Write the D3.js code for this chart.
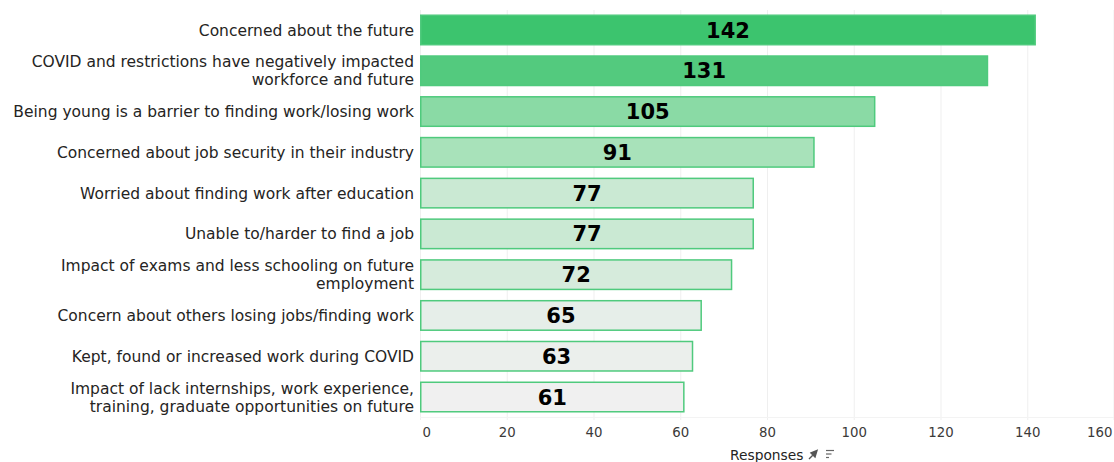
<!DOCTYPE html>
<html>
<head>
<meta charset="utf-8">
<script src="https://cdn.jsdelivr.net/npm/d3@7"></script>
<style>
  html, body { margin: 0; padding: 0; background: #ffffff; }
  svg { display: block; }
</style>
</head>
<body>
<svg id="chart" width="1114" height="462"></svg>
<script>
const categories = [
  "Concerned about the future",
  "COVID and restrictions have negatively impacted\nworkforce and future",
  "Being young is a barrier to finding work/losing work",
  "Concerned about job security in their industry",
  "Worried about finding work after education",
  "Unable to/harder to find a job",
  "Impact of exams and less schooling on future\nemployment",
  "Concern about others losing jobs/finding work",
  "Kept, found or increased work during COVID",
  "Impact of lack internships, work experience,\ntraining, graduate opportunities on future"
];
const values = [142, 131, 105, 91, 77, 77, 72, 65, 63, 61];
const xTicks = [0, 20, 40, 60, 80, 100, 120, 140, 160];
const axisTitle = "Responses";

const W = 1114, H = 462;
const plotLeft = 420, plotRight = 1114, plotTop = 10, plotBottom = 417;

const svg = d3.select("#chart");

const x = d3.scaleLinear().domain([0, 160]).range([plotLeft, plotRight]);
const y = d3.scaleBand().domain(categories).range([plotTop, plotBottom])
  .paddingInner(0.24).paddingOuter(0.11);

const color = d3.scaleLinear()
  .domain([61, 91, 142])
  .range(["#f0f0f0", "#a8e2ba", "#3cc46e"]);

// gridlines
svg.append("g").selectAll("line").data(xTicks).join("line")
  .attr("x1", d => Math.min(x(d), plotRight - 0.5) + 0.5)
  .attr("x2", d => Math.min(x(d), plotRight - 0.5) + 0.5)
  .attr("y1", plotTop).attr("y2", plotBottom + 3)
  .attr("stroke", "#efefef").attr("stroke-width", 1);

svg.append("line")
  .attr("x1", plotLeft).attr("x2", plotRight)
  .attr("y1", plotBottom + 0.5).attr("y2", plotBottom + 0.5)
  .attr("stroke", "#f3f3f3").attr("stroke-width", 1);

// x axis via d3.axisBottom
const xAxis = d3.axisBottom(x).tickValues(xTicks).tickSize(0).tickPadding(0);
const ax = svg.append("g").attr("transform", `translate(0, ${plotBottom})`).call(xAxis);
ax.select(".domain").remove();
ax.selectAll("text")
  .attr("y", 20)
  .attr("dy", 0)
  .attr("fill", "#3b3a39")
  .style("font-family", "'DejaVu Sans', Verdana, sans-serif")
  .style("font-size", "13.3px")
  .attr("text-anchor", (d, i) => i === 0 ? "start" : (i === xTicks.length - 1 ? "end" : "middle"))
  .attr("dx", (d, i) => i === 0 ? 2 : (i === xTicks.length - 1 ? -2 : 0));

// bars
svg.append("g").selectAll("rect").data(categories).join("rect")
  .attr("x", x(0) + 0.75)
  .attr("y", d => y(d) + 0.75)
  .attr("width", (d, i) => x(values[i]) - x(0) - 1.5)
  .attr("height", y.bandwidth() - 1.5)
  .attr("fill", (d, i) => color(values[i]))
  .attr("stroke", "#4fca7d")
  .attr("stroke-width", 1.5);

// value labels
svg.append("g").selectAll("text").data(categories).join("text")
  .attr("x", (d, i) => (x(0) + x(values[i])) / 2)
  .attr("y", d => y(d) + y.bandwidth() / 2)
  .attr("dy", "0.36em")
  .attr("text-anchor", "middle")
  .attr("fill", "#000000")
  .style("font-family", "'DejaVu Sans', Verdana, sans-serif")
  .style("font-weight", "bold")
  .style("font-size", "21px")
  .text((d, i) => values[i]);

// category labels
const lab = svg.append("g").selectAll("text").data(categories).join("text")
  .attr("text-anchor", "end")
  .attr("fill", "#252423")
  .style("font-family", "'DejaVu Sans', Verdana, sans-serif")
  .style("font-size", "15.5px");
lab.each(function(d) {
  const lines = d.split("\n");
  const cy = y(d) + y.bandwidth() / 2;
  const lh = 18;
  const start = cy - (lines.length - 1) * lh / 2;
  d3.select(this).selectAll("tspan").data(lines).join("tspan")
    .attr("x", 414)
    .attr("y", (l, j) => start + j * lh)
    .attr("dy", "0.36em")
    .text(l => l);
});

// axis title with icons
const tg = svg.append("g");
tg.append("text")
  .attr("x", 730).attr("y", 459.5)
  .attr("fill", "#252423")
  .style("font-family", "'DejaVu Sans', Verdana, sans-serif")
  .style("font-size", "13.8px")
  .text(axisTitle);
// pin icon
tg.append("path")
  .attr("d", "M809,459 L812.5,455.5 M811,453 L817,450.5 L815,457 Z M810.5,452.5 L815.5,457.5")
  .attr("stroke", "#555").attr("stroke-width", 1.4).attr("fill", "#555");
// sort icon
tg.append("g").selectAll("line").data([0, 1, 2]).join("line")
  .attr("x1", 826).attr("x2", d => 834 - d * 2.5)
  .attr("y1", d => 450.5 + d * 3.5).attr("y2", d => 450.5 + d * 3.5)
  .attr("stroke", "#666").attr("stroke-width", 1.2);
</script>
</body>
</html>
